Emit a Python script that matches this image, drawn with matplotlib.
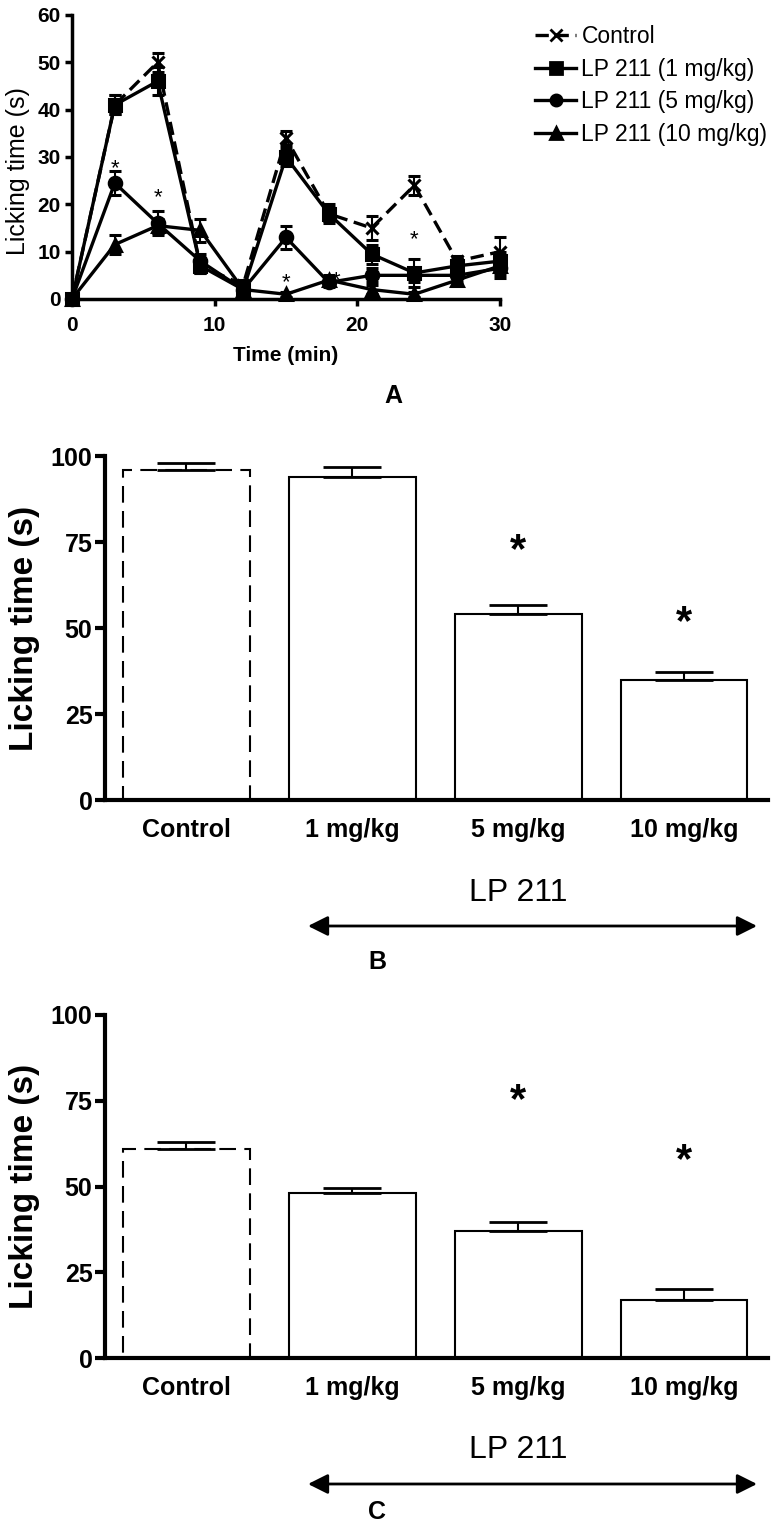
import numpy as np
import matplotlib
matplotlib.use("Agg")
import matplotlib.pyplot as plt
from matplotlib.lines import Line2D

plt.rcParams['font.family'] = ['Liberation Sans', 'DejaVu Sans']

# Panel A - time course
times = [0, 3, 6, 9, 12, 15, 18, 21, 24, 27, 30]
control = [0, 41, 50, 7, 3, 34, 18, 15, 24, 8, 10]
control_err = [0, 2, 2, 1.5, 1, 1.5, 1.5, 2.5, 2, 1, 3]
lp1 = [0, 41, 46, 7, 2, 30, 18, 9.5, 5.5, 7, 8]
lp1_err = [0, 2, 3, 1.5, 1, 2, 2, 2, 3, 1.5, 2]
lp5 = [0, 24.5, 16, 8, 2, 13, 3.5, 5, 5, 5, 6.5]
lp5_err = [0, 2.5, 2.5, 1.5, 1, 2.5, 1, 1.5, 1.5, 1.5, 2]
lp10 = [0, 11.5, 15.5, 14.5, 2, 1, 4, 2, 1, 4, 7]
lp10_err = [0, 2, 1.5, 2.5, 1, 0.5, 1, 1, 0.5, 1, 2]
series_labels = ['Control', 'LP 211 (1 mg/kg)', 'LP 211 (5 mg/kg)', 'LP 211 (10 mg/kg)']
star_times_a = [3, 6, 15, 18.5, 24]
star_y_a = [27.5, 21.5, 3.5, 3.8, 12.5]

# Panels B and C - totals
groups = ['Control', '1 mg/kg', '5 mg/kg', '10 mg/kg']
phase1 = [96, 94, 54, 35]
phase1_err = [2, 2.8, 2.8, 2.2]
phase1_star = [None, None, 72.5, 51.5]
phase2 = [61, 48, 37, 17]
phase2_err = [2, 1.6, 2.7, 3]
phase2_star = [None, None, 75, 57.5]

W, H = 771, 1528
fig = plt.figure(figsize=(W / 100, H / 100), dpi=100)


def rect(x0, x1, ytop, ybot):
    return [x0 / W, 1 - ybot / H, (x1 - x0) / W, (ybot - ytop) / H]


# ---------- A ----------
ax = fig.add_axes(rect(72, 500, 15, 299))
styles = [
    (control, control_err, 'x', (0, (4, 2))),
    (lp1, lp1_err, 's', '-'),
    (lp5, lp5_err, 'o', '-'),
    (lp10, lp10_err, '^', '-'),
]
handles = []
for (vals, err, mk, ls), lab in zip(styles, series_labels):
    ax.errorbar(times, vals, yerr=err, color='black', marker=mk, ms=9,
                mew=2.2, lw=2.4, ls=ls, capsize=4, elinewidth=1.5,
                capthick=1.5, clip_on=False)
    handles.append(Line2D([], [], color='black', marker=mk, ms=8, mew=2,
                          lw=2.4, ls=ls, label=lab))
for t, y in zip(star_times_a, star_y_a):
    ax.text(t, y, '*', ha='center', va='center', fontsize=16)
ax.set_xlim(0, 30)
ax.set_ylim(0, 60)
ax.set_xticks([0, 10, 20, 30])
ax.set_yticks(range(0, 61, 10))
for s in ['top', 'right']:
    ax.spines[s].set_visible(False)
for s in ['left', 'bottom']:
    ax.spines[s].set_linewidth(2.5)
ax.tick_params(width=2.5, length=5, labelsize=15, pad=3)
ax.tick_params(axis='x', pad=7)
for lbl in ax.get_xticklabels() + ax.get_yticklabels():
    lbl.set_fontweight('bold')
ax.set_xlabel('Time (min)', fontsize=15, fontweight='bold', labelpad=8)
ax.set_ylabel('Licking time (s)', fontsize=18)
ax.yaxis.set_label_coords(-0.098, 0.45)
fig.legend(handles=handles, loc='upper left', bbox_to_anchor=(526 / W, 1 - 16 / H),
           frameon=False, fontsize=16.5, handlelength=1.8, handletextpad=0.22,
           labelspacing=0.42, borderaxespad=0)
fig.text(393 / W, 1 - 396 / H, 'A', ha='center', va='center', fontsize=18, fontweight='bold')


# ---------- B, C ----------
def bar_panel(r, vals, errs, stars, letter, lp_y, arrow_y, letter_y):
    ax = fig.add_axes(r)
    x = np.arange(len(groups))
    for i, (v, e) in enumerate(zip(vals, errs)):
        ls = (0, (8, 4)) if i == 0 else '-'
        ax.bar(x[i], v, width=0.765, facecolor='white', edgecolor='black',
               lw=1.5, ls=ls, zorder=2)
        ax.errorbar(x[i], v, yerr=[[0], [e]], color='black', capsize=21,
                    elinewidth=1.5, capthick=2, fmt='none', zorder=3)
        if stars[i] is not None:
            ax.text(x[i], stars[i], '*', ha='center', va='center',
                    fontsize=30, fontweight='bold')
    ax.set_xlim(-0.488, 3.506)
    ax.set_ylim(0, 100)
    ax.set_yticks([0, 25, 50, 75, 100])
    ax.set_xticks(x)
    ax.set_xticklabels(groups, fontsize=18, fontweight='bold')
    for s in ['top', 'right']:
        ax.spines[s].set_visible(False)
    for s in ['left', 'bottom']:
        ax.spines[s].set_linewidth(3)
    ax.tick_params(axis='y', width=3, length=7, labelsize=18, pad=2)
    ax.tick_params(axis='x', length=0, pad=13)
    for lbl in ax.get_yticklabels():
        lbl.set_fontweight('bold')
    ax.set_ylabel('Licking time (s)', fontsize=24, fontweight='bold', labelpad=8)
    fig.text(518 / W, 1 - lp_y / H, 'LP 211', ha='center', va='center', fontsize=23)
    ax.annotate('', xy=(308 / W, 1 - arrow_y / H), xytext=(757 / W, 1 - arrow_y / H),
                xycoords='figure fraction', textcoords='figure fraction',
                arrowprops=dict(arrowstyle='<|-|>', color='black', lw=2,
                                mutation_scale=30, shrinkA=0, shrinkB=0))
    fig.text(377 / W, 1 - letter_y / H, letter, ha='center', va='center',
             fontsize=18, fontweight='bold')


bar_panel(rect(105, 768, 456, 800), phase1, phase1_err, phase1_star, 'B', 893, 926, 962)
bar_panel(rect(105, 768, 1015, 1358), phase2, phase2_err, phase2_star, 'C', 1450, 1484, 1512)

fig.savefig('out.png', dpi=100)
